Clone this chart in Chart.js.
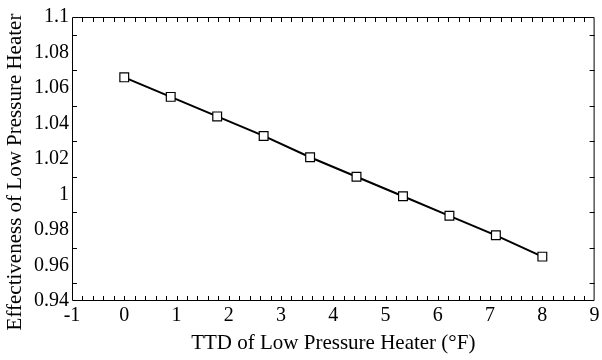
<!DOCTYPE html>
<html>
<head>
<meta charset="utf-8">
<script src="https://cdn.jsdelivr.net/npm/chart.js@4/dist/chart.umd.min.js"></script>
<style>
  html, body { margin: 0; padding: 0; background: #fff; }
  #wrap { width: 602px; height: 360px; }
</style>
</head>
<body>
<div id="wrap"><canvas id="myChart" width="602" height="360"></canvas></div>
<script>
// TTD of low pressure heater (F) and effectiveness
var ttd = [0, 0.889, 1.778, 2.667, 3.556, 4.444, 5.333, 6.222, 7.111, 8];
var effectiveness = [1.066, 1.055, 1.044, 1.033, 1.021, 1.010, 0.999, 0.988, 0.977, 0.965];

var xTitle = 'TTD of Low Pressure Heater (\u00B0F)';
var yTitle = 'Effectiveness of Low Pressure Heater';
var serif = "'Liberation Serif', 'Times New Roman', serif";

Chart.defaults.font.family = serif;
Chart.defaults.color = '#000';

// frame + inward ticks on all four sides, and the y title (sits lower than the plot centre)
var framePlugin = {
  id: 'frame',
  afterDraw: function(chart) {
    var a = chart.chartArea, c = chart.ctx;
    var xs = chart.scales.x, ys = chart.scales.y;
    c.save();
    c.strokeStyle = '#000';
    c.lineWidth = 1;
    c.beginPath();
    c.rect(a.left + 0.5, a.top + 0.5, a.right - a.left - 1, a.bottom - a.top - 1);
    // x ticks every 0.2
    for (var i = 1; i < 50; i++) {
      var px = Math.round(xs.getPixelForValue(-1 + i * 0.2)) + 0.5;
      c.moveTo(px, a.bottom); c.lineTo(px, a.bottom - 5);
      c.moveTo(px, a.top); c.lineTo(px, a.top + 5);
    }
    // y ticks at the odd hundredths
    for (var j = 0; j < 8; j++) {
      var py = Math.round(ys.getPixelForValue(0.95 + j * 0.02)) + 0.5;
      c.moveTo(a.left, py); c.lineTo(a.left + 5, py);
      c.moveTo(a.right, py); c.lineTo(a.right - 5, py);
    }
    c.stroke();

    c.translate(15, 172);
    c.rotate(-Math.PI / 2);
    c.font = '21px ' + serif;
    c.fillStyle = '#000';
    c.textAlign = 'center';
    c.textBaseline = 'middle';
    c.fillText(yTitle, 0, 0);
    c.restore();
  }
};

var ctx = document.getElementById('myChart').getContext('2d');
var chart = new Chart(ctx, {
  type: 'scatter',
  data: {
    datasets: [{
      data: ttd.map(function(v, i) { return { x: v, y: effectiveness[i] }; }),
      showLine: true,
      borderColor: '#000',
      borderWidth: 2,
      pointStyle: 'rect',
      pointRadius: 6.2,
      pointBorderWidth: 1.2,
      pointBackgroundColor: '#fff',
      pointBorderColor: '#000'
    }]
  },
  options: {
    responsive: false,
    animation: false,
    layout: { padding: { left: 0, right: 4, top: 17, bottom: 0 } },
    plugins: { legend: { display: false }, tooltip: { enabled: false } },
    scales: {
      x: {
        type: 'linear', min: -1, max: 9,
        grid: { display: false, drawTicks: false },
        border: { display: false },
        ticks: { stepSize: 1, color: '#000', padding: 3, font: { family: serif, size: 20 } },
        title: { display: true, text: xTitle, color: '#000', padding: { top: 0, bottom: 4 }, font: { family: serif, size: 21 } },
        afterFit: function(s) { s.height = 59; s.paddingRight = 0; s.paddingLeft = 0; }
      },
      y: {
        type: 'linear', min: 0.94, max: 1.1,
        grid: { display: false, drawTicks: false },
        border: { display: false },
        ticks: {
          stepSize: 0.02, color: '#000', padding: 3, font: { family: serif, size: 20 },
          callback: function(v) { return String(+v.toFixed(2)); }
        },
        afterFit: function(s) { s.width = 72; s.paddingTop = 0; s.paddingBottom = 0; }
      }
    }
  },
  plugins: [framePlugin]
});
</script>
</body>
</html>
